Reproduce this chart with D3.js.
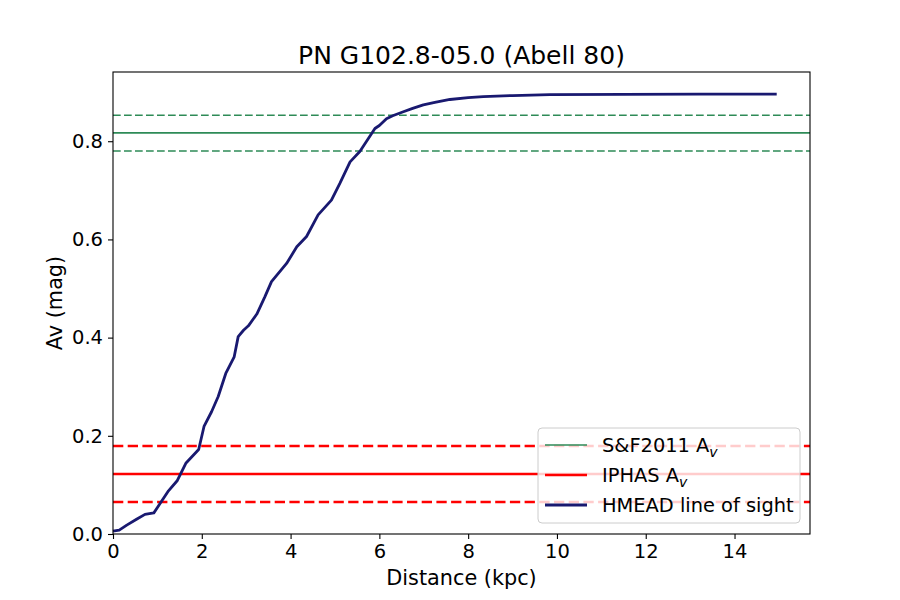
<html>
<head>
<script src="https://d3js.org/d3.v7.min.js"></script>
<style>
body { margin: 0; background: #fff; }
text { font-family: "DejaVu Sans", sans-serif; }
</style>
</head>
<body>
<script>
// HMEAD line of sight (distance kpc, Av mag)
var dist = [0, 0.14, 0.31, 0.53, 0.72, 0.92, 1.06, 1.25, 1.45, 1.64, 1.93, 2.05, 2.22, 2.37, 2.54, 2.73, 2.82, 2.94, 3.05, 3.24, 3.42, 3.57, 3.91, 4.14, 4.36, 4.62, 4.92, 5.11, 5.34, 5.56, 5.9, 6.0, 6.16, 6.3, 6.54, 6.75, 6.99, 7.25, 7.59, 8.0, 8.34, 9.0, 9.84, 11.5, 13.2, 14.95];
var av   = [0.006, 0.008, 0.018, 0.03, 0.040, 0.043, 0.062, 0.088, 0.109, 0.144, 0.172, 0.219, 0.249, 0.280, 0.327, 0.361, 0.402, 0.415, 0.424, 0.448, 0.483, 0.514, 0.551, 0.585, 0.606, 0.650, 0.680, 0.714, 0.758, 0.779, 0.826, 0.832, 0.846, 0.852, 0.860, 0.867, 0.874, 0.879, 0.885, 0.889, 0.891, 0.893, 0.895, 0.8955, 0.896, 0.896];

var sfAv = 0.817, sfLo = 0.780, sfHi = 0.853;      // S&F2011
var iphasAv = 0.122, iphasLo = 0.065, iphasHi = 0.179; // IPHAS

var xTicks = [0, 2, 4, 6, 8, 10, 12, 14];
var yTicks = [0, 0.2, 0.4, 0.6, 0.8];

var W = 900, H = 600;
var mL = 113, mR = 810, mT = 72, mB = 534;

var svg = d3.select("body").append("svg").attr("width", W).attr("height", H);

var x = d3.scaleLinear().domain([0, 15.7]).range([mL, mR]);
var y = d3.scaleLinear().domain([0, 0.941]).range([mB, mT]);

// horizontal reference lines
function hline(v, color, lw, dash) {
	svg.append("line")
		.attr("x1", mL).attr("x2", mR)
		.attr("y1", y(v)).attr("y2", y(v))
		.attr("stroke", color).attr("stroke-width", lw)
		.attr("stroke-dasharray", dash);
}
hline(sfAv, "#2e8b57", 1.6, null);
hline(sfLo, "#2e8b57", 1.6, "7.7,3.3");
hline(sfHi, "#2e8b57", 1.6, "7.7,3.3");
hline(iphasAv, "red", 2.5, null);
hline(iphasLo, "red", 2.5, "10.3,4.4");
hline(iphasHi, "red", 2.5, "10.3,4.4");

// curve
var line = d3.line().x(function(d, i){ return x(dist[i]); }).y(function(d){ return y(d); });
svg.append("path").attr("d", line(av))
	.attr("fill", "none").attr("stroke", "#191970").attr("stroke-width", 2.8)
	.attr("stroke-linejoin", "round");

// axes
var xAxis = d3.axisBottom(x).tickValues(xTicks).tickSize(5).tickPadding(5).tickFormat(d3.format("d"));
var yAxis = d3.axisLeft(y).tickValues(yTicks).tickSize(5).tickPadding(5).tickFormat(d3.format(".1f"));
var gx = svg.append("g").attr("transform", "translate(0," + mB + ")").call(xAxis);
var gy = svg.append("g").attr("transform", "translate(" + mL + ",0)").call(yAxis);
[gx, gy].forEach(function(g){
	g.select(".domain").remove();
	g.selectAll("line").attr("stroke", "#000").attr("stroke-width", 1.1);
	g.selectAll("text").attr("font-size", 19.5).attr("font-family", "DejaVu Sans").attr("fill", "#000");
});

// frame
svg.append("rect").attr("x", mL).attr("y", mT).attr("width", mR - mL).attr("height", mB - mT)
	.attr("fill", "none").attr("stroke", "#000").attr("stroke-width", 1.1);

// labels
svg.append("text").attr("x", (mL + mR) / 2).attr("y", 64).attr("text-anchor", "middle")
	.attr("font-size", 25).text("PN G102.8-05.0 (Abell 80)");
svg.append("text").attr("x", (mL + mR) / 2).attr("y", 585).attr("text-anchor", "middle")
	.attr("font-size", 20.8).text("Distance (kpc)");
svg.append("text").attr("transform", "translate(62," + ((mT + mB) / 2) + ") rotate(-90)")
	.attr("text-anchor", "middle").attr("font-size", 20.8).text("Av (mag)");

// legend
var lg = svg.append("g");
lg.append("rect").attr("x", 538).attr("y", 428).attr("width", 262).attr("height", 95).attr("rx", 4)
	.attr("fill", "#fff").attr("fill-opacity", 0.8).attr("stroke", "#ccc").attr("stroke-width", 1);
var items = [
	{ name: "S&F2011 A", sub: "v", color: "#2e8b57", lw: 1.6 },
	{ name: "IPHAS A", sub: "v", color: "red", lw: 2.5 },
	{ name: "HMEAD line of sight", sub: null, color: "#191970", lw: 2.8 }
];
items.forEach(function(it, i){
	var yy = 445 + i * 30;
	lg.append("line").attr("x1", 545).attr("x2", 587).attr("y1", yy).attr("y2", yy)
		.attr("stroke", it.color).attr("stroke-width", it.lw);
	var t = lg.append("text").attr("x", 602).attr("y", yy + 7).attr("font-size", 19.4).text(it.name);
	if (it.sub) t.append("tspan").attr("dy", 5).attr("font-size", 14).attr("font-style", "italic").text(it.sub);
});
</script>
</body>
</html>
